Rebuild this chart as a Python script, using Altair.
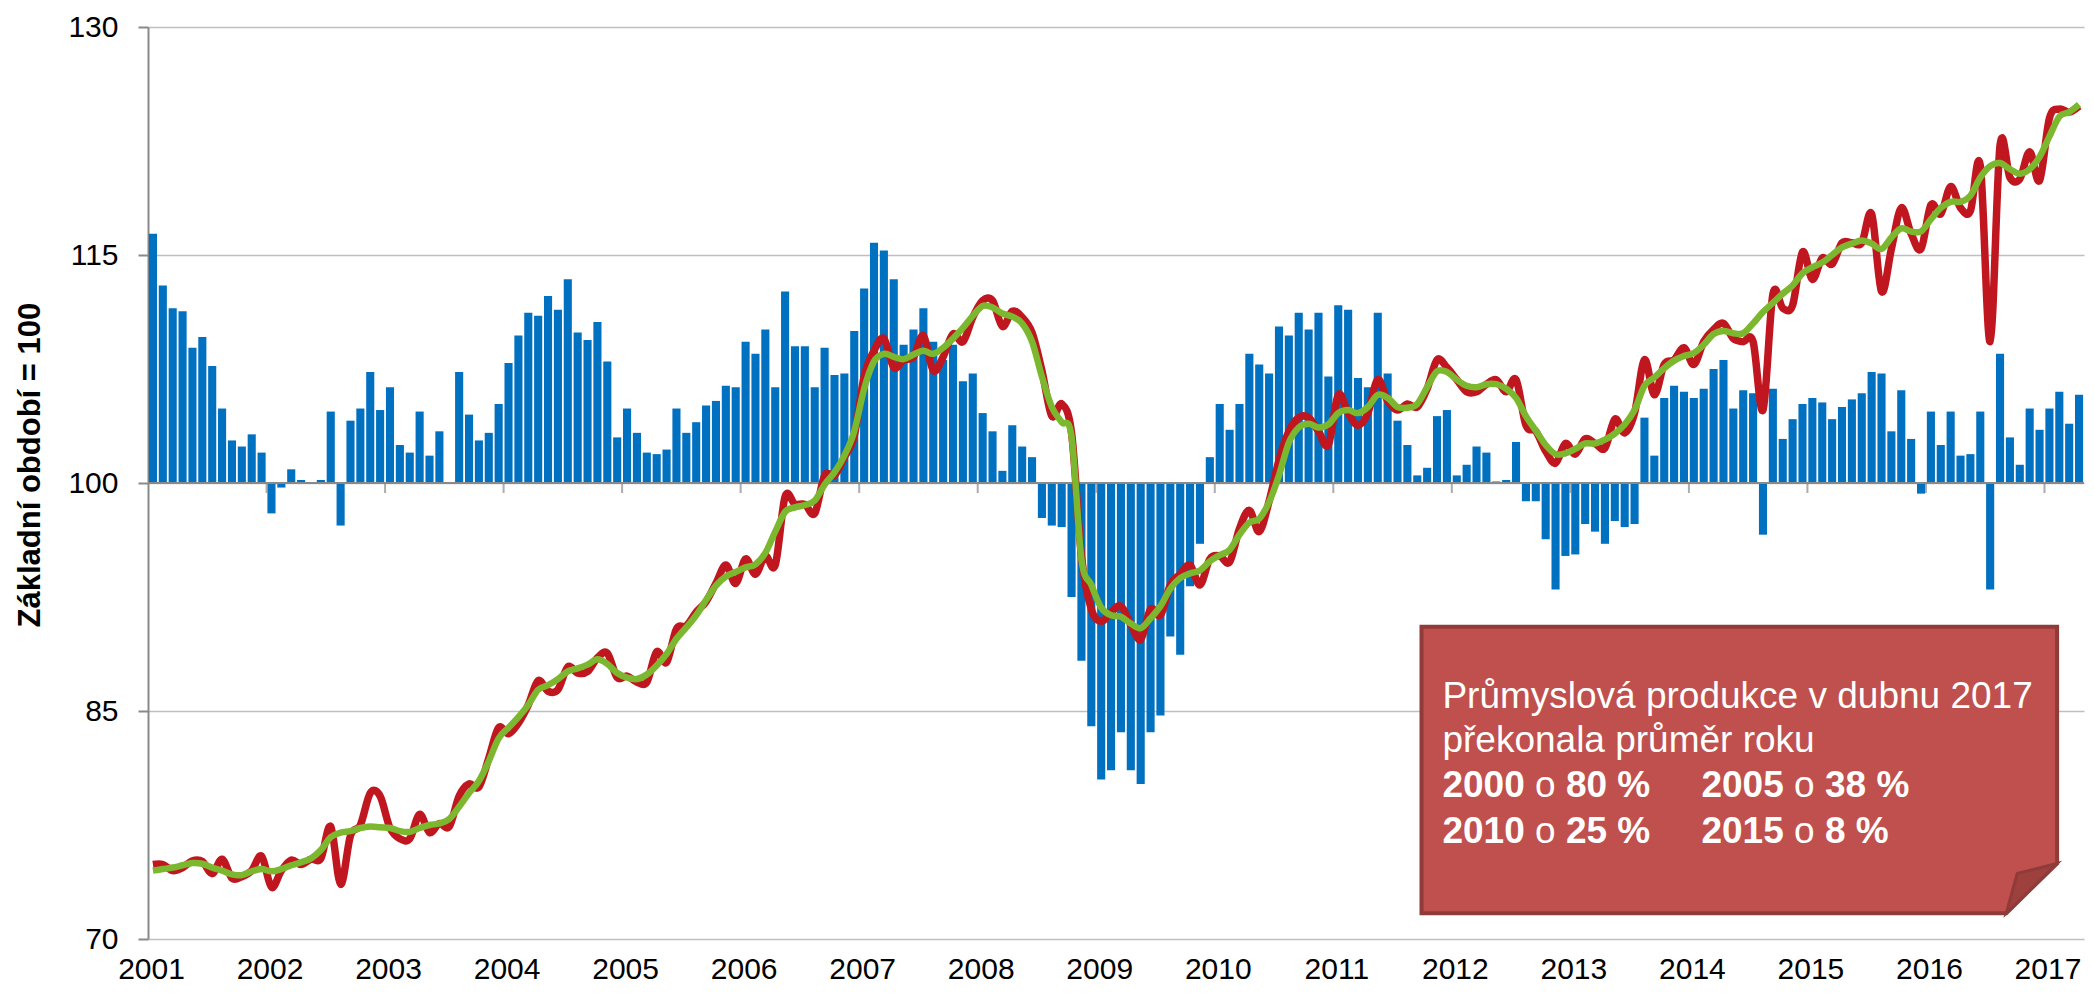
import altair as alt
import pandas as pd

# ---- data (monthly, Jan 2001 .. Apr 2017) ----
first_year = 2001
yoy = [
    116.4, 113.0, 111.5, 111.3, 108.9, 109.6, 107.7, 104.9, 102.8, 102.4, 103.2, 102.0,
    98.0, 99.7, 100.9, 100.2, 100.0, 100.2, 104.7, 97.2, 104.1, 104.9, 107.3, 104.8,
    106.3, 102.5, 102.0, 104.7, 101.8, 103.4, 100.0, 107.3, 104.5, 102.8, 103.3, 105.2,
    107.9, 109.7, 111.2, 111.0, 112.3, 111.4, 113.4, 109.9, 109.4, 110.6, 108.0, 103.0,
    104.9, 103.3, 102.0, 101.9, 102.2, 104.9, 103.3, 104.0, 105.1, 105.4, 106.4, 106.3,
    109.3, 108.5, 110.1, 106.3, 112.6, 109.0, 109.0, 106.3, 108.9, 107.1, 107.2, 110.0,
    112.8, 115.8, 115.3, 113.4, 109.1, 110.1, 111.5, 109.3, 108.1, 109.1, 106.7, 107.2,
    104.6, 103.4, 100.8, 103.8, 102.4, 101.7, 97.7, 97.2, 97.1, 92.5, 88.3, 84.0,
    80.5, 81.1, 83.6, 81.1, 80.2, 83.6, 84.7, 89.9, 88.7, 93.2, 96.0, 101.7,
    105.2, 103.5, 105.2, 108.5, 107.8, 107.2, 110.3, 109.7, 111.2, 110.1, 111.2, 107.0,
    111.7, 111.4, 106.9, 106.3, 111.2, 107.2, 104.1, 102.5, 100.5, 101.0, 104.4, 104.8,
    100.5, 101.2, 102.4, 102.0, 100.1, 100.2, 102.7, 98.8, 98.8, 96.3, 93.0, 95.2,
    95.3, 97.3, 96.8, 96.0, 97.5, 97.1, 97.3, 104.3, 101.8, 105.6, 106.4, 106.0,
    105.6, 106.2, 107.5, 108.1, 104.9, 106.1, 105.9, 96.6, 106.2, 102.9, 104.2, 105.2,
    105.6, 105.3, 104.2, 105.0, 105.5, 105.9, 107.3, 107.2, 103.4, 106.1, 102.9, 99.3,
    104.7, 102.5, 104.7, 101.8, 101.9, 104.7, 93.0, 108.5, 103.0, 101.2, 104.9, 103.5,
    104.9, 106.0, 103.9, 105.8,
]
index_orig = [
    74.9, 74.9, 74.5, 74.7, 75.15, 75.1, 74.3, 75.25, 74.0, 74.1, 74.5, 75.45,
    73.4, 74.5, 75.2, 74.9, 75.25, 75.3, 77.4, 73.6, 76.8, 77.5, 79.6, 79.4,
    77.3, 76.6, 76.6, 78.2, 77.0, 77.6, 77.4, 79.4, 80.2, 80.0, 81.9, 83.9,
    83.5, 84.2, 85.4, 87.0, 86.3, 86.4, 87.9, 87.5, 87.6, 88.5, 88.8, 87.2,
    87.3, 86.9, 86.9, 88.9, 88.2, 90.4, 90.6, 91.5, 92.2, 93.4, 94.6, 93.4,
    95.0, 94.0, 95.2, 94.6, 99.1, 98.6, 98.6, 98.0, 100.5, 100.5, 101.7, 103.1,
    107.0, 108.7, 109.5, 107.6, 108.1, 108.3, 109.7, 107.4, 108.3, 109.8, 109.3, 110.9,
    112.0, 112.0, 110.3, 111.3, 110.9, 109.9, 107.4, 104.4, 105.2, 103.3, 95.2, 91.7,
    90.9, 91.5, 91.9, 90.7, 89.7, 91.7, 91.3, 93.3, 94.0, 94.6, 93.3, 95.0,
    95.2, 94.8, 97.0, 98.2, 96.8, 98.8, 101.5, 103.4, 104.3, 104.3, 103.4, 102.5,
    105.8, 104.6, 103.8, 104.6, 106.8, 105.4, 104.8, 105.2, 105.0, 106.2, 108.1, 107.6,
    106.8, 106.0, 106.0, 106.5, 106.8, 106.0, 106.8, 103.8, 103.4, 102.1, 101.3, 102.6,
    101.9, 102.9, 102.6, 102.3, 104.2, 103.3, 104.6, 108.1, 105.8, 107.8, 108.1, 108.9,
    107.8, 109.3, 110.1, 110.5, 109.5, 109.3, 109.3, 104.8, 112.4, 111.5, 111.7, 115.2,
    113.4, 114.8, 114.4, 115.8, 115.8, 115.8, 117.7, 112.6, 115.4, 118.1, 116.4, 115.4,
    118.3, 117.7, 119.5, 118.1, 117.9, 120.9, 109.3, 122.2, 120.1, 120.0, 121.8, 119.9,
    124.0, 124.6, 124.4, 124.8,
]
index_sa = [
    74.5, 74.6, 74.7, 74.85, 75.0, 74.95, 74.7, 74.5, 74.25, 74.2, 74.45, 74.6,
    74.45, 74.6, 74.85, 75.05, 75.3, 75.85, 76.7, 77.0, 77.1, 77.3, 77.4, 77.35,
    77.3, 77.1, 77.05, 77.3, 77.5, 77.6, 77.9, 78.7, 79.6, 80.4, 81.7, 83.2,
    83.9, 84.6, 85.4, 86.4, 86.7, 87.1, 87.6, 87.8, 88.05, 88.4, 88.1, 87.5,
    87.2, 87.1, 87.4, 88.0, 88.75, 89.75, 90.5, 91.3, 92.3, 93.25, 93.85, 94.15,
    94.45, 94.65, 95.4, 96.8, 98.1, 98.4, 98.55, 98.85, 99.9, 100.7, 101.8, 103.4,
    106.2, 108.0, 108.5, 108.3, 108.15, 108.45, 108.7, 108.5, 108.9, 109.5, 110.2, 111.0,
    111.65, 111.55, 111.15, 110.95, 110.5, 109.3, 107.0, 105.0, 104.0, 103.05, 95.0, 93.3,
    91.8, 91.3, 91.2, 90.75, 90.45, 91.1, 91.9, 93.05, 93.75, 94.05, 94.25, 94.85,
    95.25, 95.6, 96.6, 97.4, 97.65, 98.75, 100.5, 102.65, 103.65, 103.9, 103.65, 103.85,
    104.6, 104.8, 104.6, 105.0, 105.8, 105.6, 105.0, 104.95, 105.2, 106.3, 107.35, 107.3,
    106.8, 106.4, 106.3, 106.5, 106.5, 106.2, 105.6, 104.4, 103.45, 102.5, 101.9, 101.95,
    102.25, 102.6, 102.6, 102.85, 103.25, 103.85, 104.8, 106.4, 106.95, 107.55, 108.05, 108.35,
    108.55, 109.1, 109.8, 110.0, 109.85, 109.85, 110.5, 111.25, 111.85, 112.45, 113.0, 113.8,
    114.2, 114.5, 115.0, 115.5, 115.75, 115.95, 115.75, 115.4, 116.15, 116.75, 116.55, 116.55,
    117.35, 118.1, 118.5, 118.5, 118.9, 120.1, 120.85, 121.05, 120.65, 120.35, 120.65, 121.45,
    122.8, 124.1, 124.4, 124.9,
]
y_ticks = [70, 85, 100, 115, 130]
y_title = "Základní období = 100"
note_lines = ["Průmyslová produkce v dubnu 2017", "překonala průměr roku"]
note_pairs = [[("2000", "80 %"), ("2005", "38 %")], [("2010", "25 %"), ("2015", "8 %")]]

n = len(yoy)
df = pd.DataFrame({"m": list(range(n)), "yoy": yoy, "ip": index_orig, "sa": index_sa})
df["x0"] = df["m"] + 0.09
df["x1"] = df["m"] + 0.91
df["xc"] = df["m"] + 0.5
year_starts = pd.DataFrame({"b": [12 * k for k in range(1, (n - 1) // 12 + 1)], "v": 100})
base_line = pd.DataFrame({"v": [100]})
one = pd.DataFrame({"k": [0]})

# ---- layout ----
W, H = 1936, 912
PAD_L, PAD_T = 140, 19
FONT = "Liberation Sans, Arial, sans-serif"
BLUE, RED, GREEN = "#0070C0", "#C0161F", "#7CB82F"
AXIS_GRAY, GRID_GRAY = "#898989", "#BFBFBF"

sx = W / 1943.3
sy = H / 917.0


def px(page_x):
    return (page_x - 147.7) * sx


def py(page_y):
    return (page_y - 27.0) * sy


xscale = alt.Scale(domain=[0, n], nice=False, zero=False)
yscale = alt.Scale(domain=[70, 130], nice=False, zero=False)

x_axis = alt.Axis(
    values=[12 * k for k in range(0, (n - 1) // 12 + 1)],
    labelExpr=f"'' + ({first_year} + datum.value / 12)",
    ticks=False,
    tickSize=0,
    domain=False,
    grid=False,
    labelFont=FONT,
    labelFontSize=30,
    labelColor="#000000",
    labelPadding=15,
    labelFlush=False,
    labelOverlap=False,
    labelOffset=3,
    title=None,
)
y_axis = alt.Axis(
    values=y_ticks,
    grid=True,
    gridColor=GRID_GRAY,
    gridWidth=1.5,
    domainColor=AXIS_GRAY,
    domainWidth=2,
    tickColor=AXIS_GRAY,
    tickWidth=2,
    tickSize=10,
    labelFont=FONT,
    labelFontSize=30,
    labelColor="#000000",
    labelPadding=20,
    title=y_title,
    titleFont=FONT,
    titleFontSize=31,
    titleFontWeight="bold",
    titleColor="#000000",
    titleAngle=270,
    titleX=-118,
    titleY=py(467),
    titleAlign="center",
    titleBaseline="middle",
)


def X(field):
    return alt.X(field, type="quantitative", scale=xscale, axis=x_axis)


def Y(field):
    return alt.Y(field, type="quantitative", scale=yscale, axis=y_axis)


bars = alt.Chart(df).mark_bar(color=BLUE).encode(
    x=X("x0"), x2="x1", y=Y("yoy"), y2=alt.datum(100)
)

rule100 = alt.Chart(base_line).mark_rule(color=AXIS_GRAY, strokeWidth=2).encode(y=Y("v"))

year_ticks = alt.Chart(year_starts).mark_tick(
    orient="vertical", size=10, thickness=2, color=AXIS_GRAY, yOffset=5
).encode(x=X("b"), y=Y("v"))

red_line = alt.Chart(df).mark_line(
    color=RED, strokeWidth=7.5, interpolate="cardinal", strokeJoin="round"
).encode(x=X("xc"), y=Y("ip"))
green_line = alt.Chart(df).mark_line(
    color=GREEN, strokeWidth=6.5, interpolate="cardinal", strokeJoin="round"
).encode(x=X("xc"), y=Y("sa"))

# ---- annotation box (note with folded corner) ----
bx0, bx1, by0, by1 = px(1426), px(2064), py(630), py(918)
cx, cy = (bx0 + bx1) / 2, (by0 + by1) / 2
r = (bx1 - bx0) / 2
fold_a = (px(2064), py(868))
fold_b = (px(2013), py(918))
fold_c = (px(2024), py(878))


def shape_path(pts):
    return "M " + " L ".join(f"{(x - cx) / r:.4f} {(y - cy) / r:.4f}" for x, y in pts) + " Z"


box_path = shape_path([(bx0, by0), (bx1, by0), fold_a, fold_b, (bx0, by1)])
fold_path = shape_path([fold_a, fold_c, fold_b])

box = alt.Chart(one).mark_point(
    shape=box_path, size=(2 * r) ** 2, filled=True, fill="#C0504D", opacity=1,
    stroke="#8E3B39", strokeWidth=4,
).encode(x=alt.value(cx), y=alt.value(cy))
fold = alt.Chart(one).mark_point(
    shape=fold_path, size=(2 * r) ** 2, filled=True, fill="#9E403E", opacity=1,
    stroke="#8E3B39", strokeWidth=3,
).encode(x=alt.value(cx), y=alt.value(cy))

texts = []
FS = 37
tx = px(1447)
for line, base_y in zip(note_lines, [712, 756]):
    texts.append(
        alt.Chart(one).mark_text(
            text=line, font=FONT, fontSize=FS, color="white", align="left", baseline="alphabetic"
        ).encode(x=alt.value(tx), y=alt.value(py(base_y)))
    )
col_x = [px(1447), px(1707)]
for row, base_y in zip(note_pairs, [801, 847]):
    for (yr, pct), x0 in zip(row, col_x):
        for frag, dx, weight in [(yr, 0, "bold"), ("o", 92.6, "normal"), (pct, 123.5, "bold")]:
            texts.append(
                alt.Chart(one).mark_text(
                    text=frag, font=FONT, fontSize=FS, fontWeight=weight, color="white",
                    align="left", baseline="alphabetic",
                ).encode(x=alt.value(x0 + dx), y=alt.value(py(base_y)))
            )

chart = (
    alt.layer(bars, rule100, year_ticks, red_line, green_line, box, fold, *texts)
    .properties(
        width=W,
        height=H,
        padding={"left": PAD_L, "top": PAD_T, "right": 2, "bottom": 48},
        autosize=alt.AutoSizeParams(type="none"),
        background="white",
    )
    .configure_view(stroke=None)
)

chart.save("out.html", embed_options={"renderer": "svg", "actions": False})
